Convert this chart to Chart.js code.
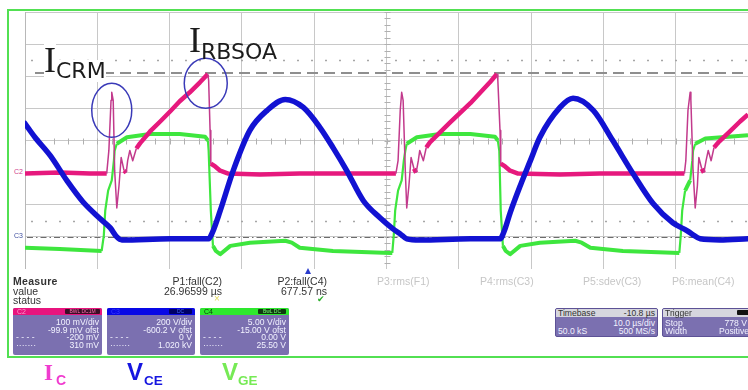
<!DOCTYPE html>
<html>
<head>
<meta charset="utf-8">
<script src="https://cdn.jsdelivr.net/npm/chart.js@4.4.1/dist/chart.umd.min.js"></script>
<style>
html,body{margin:0;padding:0;background:#fff;}
body{width:748px;height:390px;position:relative;overflow:hidden;font-family:"Liberation Sans",Arial,sans-serif;color:#333;}
.a{position:absolute;white-space:nowrap;}
#frame{position:absolute;left:7px;top:9px;width:800px;height:349px;border:2px solid #52e052;box-sizing:border-box;}
#plot{position:absolute;left:25px;top:12px;width:723px;height:257px;}
.m{font-size:10.5px;line-height:10.5px;color:#333;}
.g{font-size:10.5px;line-height:10.5px;color:#c6c6c6;}
.box{position:absolute;top:308px;height:47px;background:#7b70b0;border-radius:2px;overflow:hidden;}
.hd{position:absolute;left:0;top:0;right:0;height:7px;}
.row{position:absolute;right:3px;font-size:8.6px;line-height:8.6px;color:#f2f2ff;}
.lft{position:absolute;left:3px;font-size:8.6px;line-height:8.6px;color:#f2f2ff;}
.badge{position:absolute;top:1px;height:5px;border-radius:1px;font-size:5px;line-height:5px;text-align:center;}
.tag{position:absolute;font-size:7px;line-height:7px;}
.lab{position:absolute;white-space:nowrap;background:#fff;}
.ht{position:absolute;top:0px;font-size:8.6px;line-height:8.6px;color:#333;}
</style>
</head>
<body>
<div id="frame"></div>
<div id="plot"><canvas id="c"></canvas></div>

<div class="tag" style="left:14px;top:168px;color:#d0468f;">C2</div>
<div class="tag" style="left:14px;top:232px;color:#4050a0;">C3</div>

<div class="lab" style="left:44px;top:42px;font-family:'Liberation Serif',serif;font-size:36px;line-height:36px;color:#1c1c1c;">I</div>
<div class="lab" style="left:56px;top:60px;font-family:'DejaVu Sans',sans-serif;font-size:22px;line-height:22px;color:#1c1c1c;">CRM</div>
<div class="lab" style="left:189px;top:22px;font-family:'Liberation Serif',serif;font-size:36px;line-height:36px;color:#1c1c1c;background:transparent;">I</div>
<div class="lab" style="left:201px;top:41px;font-family:'DejaVu Sans',sans-serif;font-size:22px;line-height:22px;color:#1c1c1c;background:transparent;">RBSOA</div>

<!-- measure panel -->
<div class="a" style="left:305px;top:268px;width:0;height:0;border-left:3.5px solid transparent;border-right:3.5px solid transparent;border-bottom:6px solid #2a3ccc;"></div>
<div class="a m" style="left:13px;top:276px;font-weight:bold;letter-spacing:0.3px;">Measure</div>
<div class="a m" style="left:13px;top:286px;">value</div>
<div class="a m" style="left:13px;top:295px;">status</div>
<div class="a m" style="right:526px;top:276px;">P1:fall(C2)</div>
<div class="a m" style="right:526px;top:286px;">26.96599 µs</div>
<div class="a" style="left:214px;top:294px;font-size:10px;line-height:10px;color:#e2d860;">×</div>
<div class="a m" style="right:421px;top:276px;">P2:fall(C4)</div>
<div class="a m" style="right:421px;top:286px;">677.57 ns</div>
<div class="a" style="left:317px;top:294px;font-size:9px;line-height:10px;color:#2cae2c;">✔</div>
<div class="a g" style="left:377px;top:276px;">P3:rms(F1)</div>
<div class="a g" style="left:480px;top:276px;">P4:rms(C3)</div>
<div class="a g" style="left:583px;top:276px;">P5:sdev(C3)</div>
<div class="a g" style="left:672px;top:276px;">P6:mean(C4)</div>

<div class="box" style="left:13px;width:89px;">
  <div class="hd" style="background:#e8147e;"></div>
  <div class="tag" style="left:4px;top:0px;color:#ff9ccf;">C2</div>
  <div class="badge" style="left:52px;width:35px;background:#3a0e26;color:#ff6fae;">BWL DC1M</div>
  <div class="row" style="top:10px;">100 mV/div</div>
  <div class="row" style="top:17.5px;">-99.9 mV ofst</div>
  <div class="lft" style="top:25px;">- - - -</div>
  <div class="row" style="top:25px;">-200 mV</div>
  <div class="lft" style="top:33px;">·······</div>
  <div class="row" style="top:33px;">310 mV</div>
</div>
<div class="box" style="left:107px;width:88px;">
  <div class="hd" style="background:#0808e6;"></div>
  <div class="tag" style="left:4px;top:0px;color:#3a3aff;">C3</div>
  <div class="badge" style="left:62px;width:23px;background:#000066;color:#4466ff;">DC</div>
  <div class="row" style="top:10px;">200 V/div</div>
  <div class="row" style="top:17.5px;">-600.2 V ofst</div>
  <div class="lft" style="top:25px;">- - - -</div>
  <div class="row" style="top:25px;">0 V</div>
  <div class="lft" style="top:33px;">·······</div>
  <div class="row" style="top:33px;">1.020 kV</div>
</div>
<div class="box" style="left:200px;width:89px;">
  <div class="hd" style="background:#2ee82e;"></div>
  <div class="tag" style="left:4px;top:0px;color:#0a3a0a;">C4</div>
  <div class="badge" style="left:58px;width:28px;background:#0f3a0f;color:#7f7;">BwL DC</div>
  <div class="row" style="top:10px;">5.00 V/div</div>
  <div class="row" style="top:17.5px;">-15.00 V ofst</div>
  <div class="lft" style="top:25px;">- - - -</div>
  <div class="row" style="top:25px;">0.00 V</div>
  <div class="lft" style="top:33px;">·······</div>
  <div class="row" style="top:33px;">25.50 V</div>
</div>

<div class="box" style="left:555px;width:103px;height:29px;border:1px solid #5d5296;box-sizing:border-box;">
  <div class="hd" style="background:#d6d6de;height:8px;"></div>
  <div class="ht" style="left:2px;">Timebase</div>
  <div class="ht" style="right:2px;">-10.8 µs</div>
  <div class="row" style="top:10px;right:2px;">10.0 µs/div</div>
  <div class="lft" style="top:18px;left:2px;">50.0 kS</div>
  <div class="row" style="top:18px;right:2px;">500 MS/s</div>
</div>
<div class="box" style="left:662px;width:100px;height:29px;border:1px solid #5d5296;box-sizing:border-box;">
  <div class="hd" style="background:#d6d6de;height:8px;"></div>
  <div class="ht" style="left:2px;">Trigger</div>
  <div class="badge" style="left:74px;width:12px;background:#111;top:1px;"></div>
  <div class="lft" style="top:10px;left:2px;">Stop</div>
  <div class="row" style="top:10px;right:14px;">778 V</div>
  <div class="lft" style="top:18px;left:2px;">Width</div>
  <div class="row" style="top:18px;right:12px;">Positive</div>
</div>

<!-- channel legend -->
<div class="lab" style="left:44px;top:361px;font-family:'Liberation Serif',serif;font-weight:bold;font-size:23px;line-height:23px;color:#f03ccf;">I</div>
<div class="lab" style="left:56px;top:373px;font-weight:bold;font-size:14px;line-height:14px;color:#f03ccf;">C</div>
<div class="lab" style="left:127px;top:360px;font-weight:bold;font-size:24px;line-height:24px;color:#1616e0;">V</div>
<div class="lab" style="left:144px;top:373.5px;font-weight:bold;font-size:13.5px;line-height:13.5px;color:#1616e0;">CE</div>
<div class="lab" style="left:222px;top:360px;font-weight:bold;font-size:24px;line-height:24px;color:#76ea55;">V</div>
<div class="lab" style="left:238px;top:373.5px;font-weight:bold;font-size:13.5px;line-height:13.5px;color:#76ea55;">GE</div>

<script>
// ---- data (time in µs across the 100 µs screen) ----
// C2: collector current probe output, mV
const icTrace = [
 [0,-3],[4.8,0],[9.0,-3],[11.3,-3],[11.6,69],[11.9,225],[12.0,250],[12.2,225],[12.4,6],[12.7,-110],[13.0,-41],[13.3,47],[13.7,6],[14.0,0],[14.2,37],[14.5,69],[14.9,37],[15.4,75],[15.9,91],[17.3,128],[18.7,159],[20.1,191],[21.4,222],[22.8,250],[24.2,281],[25.0,300],[25.3,306],[25.4,287],[25.6,131],[25.7,28],[26.3,19],[27.0,6],[28.1,-3],[32.5,-6],[38.0,-3],[45.0,-3],[51.3,-3],
 [51.6,37],[51.9,194],[52.1,250],[52.3,225],[52.6,6],[52.8,-110],[53.1,-41],[53.4,47],[53.8,12],[54.1,0],[54.4,37],[54.6,69],[55.1,37],[55.5,78],[56.0,94],[58.8,156],[61.6,216],[64.3,281],[65.0,300],[65.3,306],[65.4,287],[65.7,131],[65.8,28],[66.4,19],[67.1,6],[68.2,-3],[74.0,-6],[79.5,-3],[86.5,-3],[91.2,-3],
 [91.4,37],[91.7,194],[92.0,250],[92.1,225],[92.4,6],[92.7,-110],[93.0,-41],[93.2,47],[93.6,12],[93.9,0],[94.2,37],[94.5,69],[94.9,37],[95.3,78],[95.9,94],[97.5,128],[98.9,159],[100,181]
];
// C3: collector-emitter voltage, V
const vceTrace = [
 [0,706],[1.4,619],[3.5,506],[5.8,350],[8.0,219],[10.4,113],[11.8,56],[12.7,0],[13.4,-19],[20.1,-12],[25.4,-12],[25.9,25],[27.0,163],[28.8,413],[31.1,663],[33.5,788],[36.0,856],[38.5,806],[40.8,681],[42.6,556],[44.5,413],[46.8,225],[49.1,119],[50.9,50],[51.9,19],[52.8,-12],[54.6,-19],[61.6,-12],[65.7,-12],
 [66.3,38],[67.1,150],[68.5,319],[69.9,475],[71.2,619],[74.0,806],[75.8,863],[78.6,788],[81.3,600],[84.1,394],[86.9,206],[89.6,88],[91.6,38],[92.4,13],[93.4,-12],[96.1,-19],[100,-12]
];
// C4: gate-emitter voltage, V
const vgeTrace = [
 [0,-1.7],[4.8,-1.9],[10.6,-2.2],[10.9,0.2],[11.1,4.1],[11.5,7.2],[12.0,8.8],[12.3,11.9],[12.4,13.4],[12.7,14.5],[14.1,15.5],[17.3,16.0],[21.4,16.0],[24.9,15.6],[25.3,15.0],[25.4,13.4],[25.7,4.1],[26.0,-1.4],[26.4,-2.2],[27.0,-2.7],[28.4,-1.4],[31.1,-0.9],[36.0,-0.6],[36.9,-0.9],[38.0,-1.7],[42.6,-2.2],[50.5,-2.5],
 [50.8,-2.5],[51.0,0.2],[51.2,4.1],[51.6,7.2],[52.1,8.8],[52.4,11.9],[52.6,13.4],[52.8,14.5],[54.2,15.5],[57.4,16.0],[61.6,16.0],[65.0,15.6],[65.4,15.0],[65.6,13.4],[65.8,4.1],[66.1,-1.4],[66.5,-2.2],[67.1,-2.7],[68.5,-1.4],[71.2,-0.9],[76.1,-0.6],[77.0,-0.9],[78.2,-1.7],[82.7,-2.2],[90.5,-2.5],
 [90.7,0.2],[90.9,4.1],[91.3,7.2],[92.0,8.8],[92.3,11.9],[92.4,13.4],[92.7,14.5],[94.1,15.3],[100,15.8]
];
// channel settings (per division and offset) from the channel boxes
const ch2Setup = [100, -99.9];   // mV/div, offset mV
const ch3Setup = [200, -600.2];  // V/div, offset V
const ch4Setup = [5, -15];       // V/div, offset V
const c2Cursors = [310, -200];   // mV
const guideLevelsDiv = [2.5, -2.5];
const circledEvents = [[12.0, 194], [25.0, 278]]; // I_CRM and I_RBSOA (t µs, C2 mV)

const span = s => ({min: -s[1] - 4*s[0], max: -s[1] + 4*s[0]});
const toXY = arr => arr.map(p => ({x: p[0], y: p[1]}));
const steep = (c, k) => Math.abs(c.p1.y - c.p0.y) > k * Math.abs(c.p1.x - c.p0.x);

const scopeExtras = {
  id: 'scopeExtras',
  beforeDatasetsDraw(chart) {
    const {ctx, chartArea: a, scales} = chart;
    ctx.save();
    ctx.strokeStyle = '#b0b0b0'; ctx.lineWidth = 1;
    const cx = Math.round(scales.x.getPixelForValue(50)) + 0.5;
    for (let i = -20; i <= 20; i++) {
      const y = Math.round(scales.div.getPixelForValue(i / 5)) + 0.5;
      ctx.beginPath(); ctx.moveTo(cx - 3, y); ctx.lineTo(cx + 3, y); ctx.stroke();
    }
    const cy = Math.round(scales.div.getPixelForValue(0)) + 0.5;
    for (let i = 0; i <= 50; i++) {
      const x = Math.round(scales.x.getPixelForValue(i * 2)) + 0.5;
      ctx.beginPath(); ctx.moveTo(x, cy - 3); ctx.lineTo(x, cy + 3); ctx.stroke();
    }
    ctx.strokeStyle = '#a6a6a6'; ctx.lineWidth = 1.5; ctx.setLineDash([2, 12]);
    guideLevelsDiv.forEach(v => {
      const y = Math.round(scales.div.getPixelForValue(v)) + 0.5;
      ctx.beginPath(); ctx.moveTo(a.left + 6, y); ctx.lineTo(a.right, y); ctx.stroke();
    });
    let y = Math.round(scales.ch2.getPixelForValue(c2Cursors[0]));
    ctx.strokeStyle = '#8e8e8e'; ctx.lineWidth = 2; ctx.setLineDash([11, 6]);
    ctx.beginPath(); ctx.moveTo(a.left + 10, y); ctx.lineTo(a.right, y); ctx.stroke();
    y = Math.round(scales.ch2.getPixelForValue(c2Cursors[1])) + 0.5;
    ctx.strokeStyle = '#6c6c6c'; ctx.lineWidth = 1; ctx.setLineDash([6, 3, 1.5, 3]);
    ctx.beginPath(); ctx.moveTo(a.left + 2, y); ctx.lineTo(a.right, y); ctx.stroke();
    ctx.restore();
  },
  afterDatasetsDraw(chart) {
    const {ctx, scales} = chart;
    const radii = [[20, 27], [21.5, 25]];
    ctx.save();
    ctx.strokeStyle = '#3a3ab8'; ctx.lineWidth = 1.5;
    circledEvents.forEach((e, i) => {
      const x = scales.x.getPixelForValue(e[0]);
      const y = scales.ch2.getPixelForValue(e[1]);
      ctx.beginPath(); ctx.ellipse(x, y, radii[i][0], radii[i][1], 0, 0, Math.PI * 2); ctx.stroke();
    });
    ctx.restore();
  }
};

const gridOpts = {color: '#c8c8c8', lineWidth: 1, drawTicks: false};
new Chart(document.getElementById('c'), {
  type: 'line',
  data: {datasets: [
    {label: 'VCE', data: toXY(vceTrace), yAxisID: 'ch3', borderColor: '#1212d2', borderWidth: 5.5,
     cubicInterpolationMode: 'monotone', borderJoinStyle: 'round', borderCapStyle: 'round', order: 1},
    {label: 'IC', data: toXY(icTrace), yAxisID: 'ch2', borderColor: '#e6197d', borderWidth: 4.5, borderJoinStyle: 'round',
     segment: {borderWidth: c => steep(c, 2.5) ? 1.5 : 4.5, borderColor: c => steep(c, 2.5) ? '#c23a8c' : '#e6197d'}, order: 2},
    {label: 'VGE', data: toXY(vgeTrace), yAxisID: 'ch4', borderColor: '#3ee63e', borderWidth: 4, borderJoinStyle: 'round',
     segment: {borderWidth: c => steep(c, 2.5) ? 2.2 : 4}, order: 3}
  ]},
  options: {
    responsive: true, maintainAspectRatio: false, animation: false,
    layout: {padding: 0},
    elements: {point: {radius: 0}, line: {tension: 0}},
    plugins: {legend: {display: false}, tooltip: {enabled: false}},
    events: [],
    scales: {
      x: {type: 'linear', min: 0, max: 100, ticks: {display: false, stepSize: 10, autoSkip: false}, grid: gridOpts, border: {color: '#b8b8b8'}},
      div: {type: 'linear', position: 'left', min: -4, max: 4, ticks: {display: false, stepSize: 1, autoSkip: false}, grid: gridOpts, border: {color: '#b8b8b8'}},
      ch2: Object.assign({type: 'linear', display: false}, span(ch2Setup)),
      ch3: Object.assign({type: 'linear', display: false}, span(ch3Setup)),
      ch4: Object.assign({type: 'linear', display: false}, span(ch4Setup))
    }
  },
  plugins: [scopeExtras]
});
</script>
</body>
</html>
